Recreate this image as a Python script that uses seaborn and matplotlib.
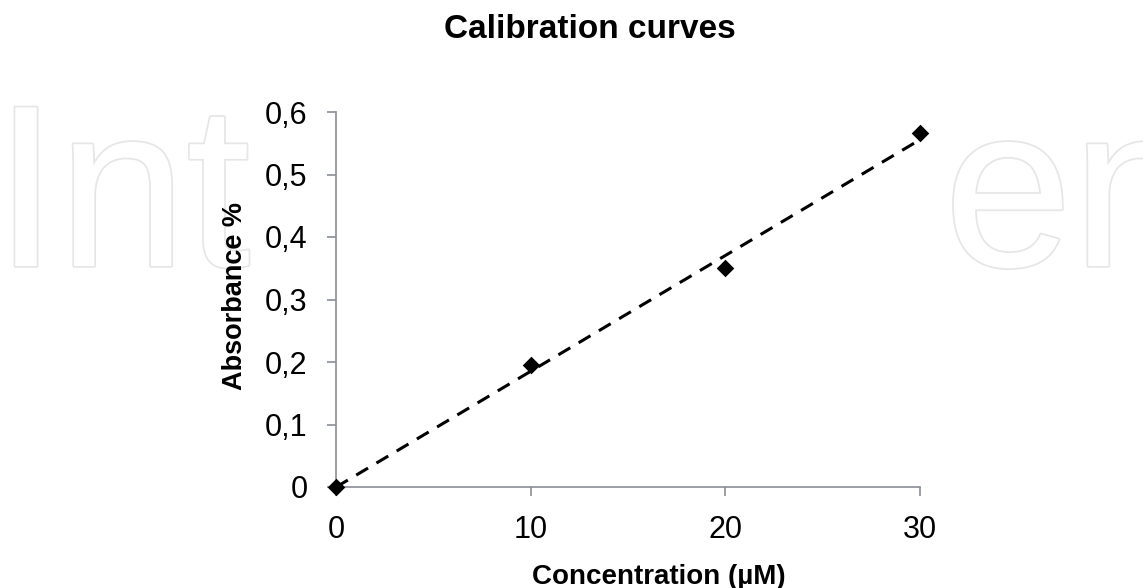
import numpy as np
import pandas as pd
import seaborn as sns
import matplotlib.pyplot as plt
import matplotlib.patheffects as pe
from matplotlib.ticker import FuncFormatter

# Data
concentration = [0, 10, 20, 30]
absorbance = [0.0, 0.195, 0.350, 0.566]
x_ticks = [0, 10, 20, 30]
y_ticks = [0.0, 0.1, 0.2, 0.3, 0.4, 0.5, 0.6]

df = pd.DataFrame({'conc': concentration, 'abs': absorbance})

sns.set_style('white')
plt.rcParams['font.family'] = ['Liberation Sans', 'DejaVu Sans']
plt.rcParams['text.color'] = 'black'
plt.rcParams['axes.labelcolor'] = 'black'

fig = plt.figure(figsize=(11.43, 5.88), dpi=100)
ax = fig.add_axes([336 / 1143, 1 - 487 / 588, 584 / 1143, 375 / 588])
ax.set_facecolor('white')

# faint publisher watermark behind the plot area
outline = [pe.Stroke(linewidth=2.5, foreground='#e6e6e6'), pe.Normal()]
for txt, xpos in [('Int', -6), ('en', 944)]:
    wm = fig.text(xpos / 1143, 1 - 266 / 588, txt, fontsize=166, color='white',
                  ha='left', va='baseline', zorder=-5)
    wm.set_path_effects(outline)

# Linear trendline (dashed) and the measured points
sns.regplot(data=df, x='conc', y='abs', ax=ax, ci=None, scatter=False, truncate=True,
            line_kws=dict(color='black', lw=2.2, ls=(0, (4.5, 3.2))))
sns.scatterplot(data=df, x='conc', y='abs', ax=ax, marker='D', s=80, color='black',
                edgecolor='black', linewidth=0, zorder=5, clip_on=False)

ax.set_xlim(0, 30)
ax.set_ylim(0, 0.6)
ax.set_xticks(x_ticks)
ax.set_yticks(y_ticks)
ax.yaxis.set_major_formatter(FuncFormatter(lambda v, p: '0' if abs(v) < 1e-9 else f'{v:.1f}'.replace('.', ',')))

for side in ['top', 'right']:
    ax.spines[side].set_visible(False)
for side in ['left', 'bottom']:
    ax.spines[side].set_color('#8a8f96')
    ax.spines[side].set_linewidth(1.2)

ax.tick_params(axis='both', direction='out', length=6.5, width=1.2, color='#8a8f96',
               labelsize=22, labelcolor='black')
ax.tick_params(axis='x', pad=14, bottom=True)
ax.tick_params(axis='y', pad=14, left=True)
for lab in ax.get_xticklabels() + ax.get_yticklabels():
    lab.set_bbox(dict(facecolor='white', edgecolor='none', pad=1))

ax.set_xlabel('Concentration (\u00b5M)', fontsize=20, fontweight='bold')
ax.set_ylabel('Absorbance %', fontsize=19.5, fontweight='bold')
ax.xaxis.set_label_coords(0.553, -0.205)
ax.yaxis.set_label_coords(-0.151, 0.51)

fig.text(590 / 1143, 1 - 29 / 588, 'Calibration curves', fontsize=24, fontweight='bold',
         ha='center', va='center')

fig.savefig('out.png', dpi=100, facecolor='white')
